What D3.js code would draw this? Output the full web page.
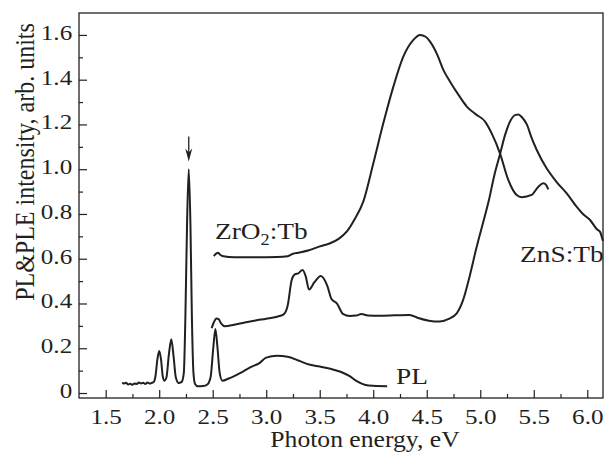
<!DOCTYPE html>
<html>
<head>
<meta charset="utf-8">
<script src="https://cdn.jsdelivr.net/npm/d3@7"></script>
<style>
  body { margin: 0; background: #fff; }
  svg { display: block; }
  text { font-family: "Liberation Serif", "Times New Roman", serif; fill: #231f20; }
</style>
</head>
<body>
<div id="chart"></div>
<script>
// PL spectrum (photon energy eV, intensity)
const plData = [
  [1.655, 0.048], [1.67, 0.042], [1.69, 0.046], [1.71, 0.038], [1.73, 0.041],
  [1.75, 0.037], [1.77, 0.043], [1.79, 0.040], [1.81, 0.047], [1.83, 0.043],
  [1.85, 0.046], [1.87, 0.040], [1.89, 0.047], [1.91, 0.042], [1.93, 0.045],
  [1.95, 0.050], [1.965, 0.075], [1.983, 0.15], [2.0, 0.188], [2.017, 0.15],
  [2.033, 0.075], [2.05, 0.055], [2.068, 0.07], [2.09, 0.17], [2.113, 0.24],
  [2.135, 0.16], [2.155, 0.07], [2.18, 0.045], [2.21, 0.05], [2.23, 0.09],
  [2.245, 0.35], [2.26, 0.75], [2.276, 1.0], [2.292, 0.75], [2.305, 0.35],
  [2.32, 0.09], [2.335, 0.04], [2.36, 0.03], [2.41, 0.031], [2.45, 0.038],
  [2.48, 0.07], [2.505, 0.2], [2.525, 0.286], [2.545, 0.2], [2.565, 0.09],
  [2.59, 0.055], [2.65, 0.065], [2.755, 0.089], [2.85, 0.115], [2.94, 0.135],
  [3.0, 0.158], [3.1, 0.166], [3.2, 0.162], [3.3, 0.145], [3.41, 0.126],
  [3.5, 0.118], [3.6, 0.108], [3.7, 0.094], [3.78, 0.075], [3.85, 0.052],
  [3.92, 0.037], [4.0, 0.032], [4.13, 0.030]
];

// PLE spectrum, ZnS:Tb
const znsData = [
  [2.49, 0.29], [2.51, 0.315], [2.535, 0.333], [2.555, 0.33], [2.58, 0.31],
  [2.615, 0.298], [2.7, 0.305], [2.8, 0.315], [2.9, 0.324], [3.0, 0.332],
  [3.1, 0.341], [3.16, 0.35], [3.2, 0.39], [3.238, 0.505], [3.27, 0.531],
  [3.3, 0.535], [3.34, 0.55], [3.37, 0.52], [3.40, 0.462], [3.45, 0.495],
  [3.51, 0.523], [3.57, 0.48], [3.61, 0.42], [3.66, 0.4], [3.72, 0.352],
  [3.78, 0.344], [3.84, 0.346], [3.89, 0.353], [3.95, 0.346], [4.06, 0.345],
  [4.2, 0.347], [4.34, 0.349], [4.42, 0.335], [4.52, 0.323], [4.62, 0.319],
  [4.7, 0.33], [4.78, 0.356], [4.84, 0.416], [4.9, 0.52], [4.96, 0.64],
  [5.02, 0.75], [5.08, 0.86], [5.13, 0.97], [5.185, 1.068], [5.23, 1.15],
  [5.28, 1.215], [5.33, 1.243], [5.356, 1.245], [5.39, 1.232], [5.435, 1.2],
  [5.48, 1.14], [5.528, 1.086], [5.62, 1.004], [5.71, 0.945], [5.808, 0.892],
  [5.9, 0.833], [5.96, 0.8], [6.026, 0.773], [6.09, 0.732], [6.12, 0.72],
  [6.14, 0.69], [6.147, 0.68]
];

// PLE spectrum, ZrO2:Tb
const zroData = [
  [2.51, 0.612], [2.535, 0.624], [2.55, 0.627], [2.57, 0.618], [2.6, 0.611],
  [2.7, 0.607], [2.9, 0.607], [3.1, 0.608], [3.2, 0.611], [3.25, 0.622],
  [3.3, 0.627], [3.4, 0.638], [3.5, 0.655], [3.597, 0.669], [3.68, 0.69],
  [3.752, 0.721], [3.83, 0.78], [3.907, 0.855], [4.001, 1.027], [4.094, 1.205],
  [4.188, 1.369], [4.281, 1.503], [4.375, 1.578], [4.437, 1.6], [4.49, 1.592],
  [4.531, 1.57], [4.6, 1.51], [4.655, 1.444], [4.718, 1.391], [4.8, 1.33],
  [4.874, 1.28], [4.96, 1.245], [5.045, 1.213], [5.107, 1.16], [5.185, 1.07],
  [5.262, 0.952], [5.34, 0.885], [5.388, 0.875], [5.48, 0.885], [5.543, 0.922],
  [5.59, 0.937], [5.615, 0.93], [5.636, 0.91]
];

const xMajor = [1.5, 2.0, 2.5, 3.0, 3.5, 4.0, 4.5, 5.0, 5.5, 6.0];
const xMinor = [1.75, 2.25, 2.75, 3.25, 3.75, 4.25, 4.75, 5.25, 5.75];
const yMajor = [0, 0.2, 0.4, 0.6, 0.8, 1.0, 1.2, 1.4, 1.6];
const yMinor = [0.1, 0.3, 0.5, 0.7, 0.9, 1.1, 1.3, 1.5];

// curve labels, anchored at their left baseline
const curveLabels = [
  { head: "ZrO", sub: "2", tail: ":Tb", x: 2.521, y: 0.687 },
  { head: "ZnS:Tb", sub: "", tail: "", x: 5.372, y: 0.587 },
  { head: "PL", sub: "", tail: "", x: 4.213, y: 0.039 }
];
// arrow marking the 2.28 eV line: [x, yTop, yTip]
const arrowPos = [2.276, 1.146, 1.034];

const W = 608, H = 458;
const margin = { top: 13, right: 5, bottom: 60, left: 79 };
const width = W - margin.left - margin.right;
const height = H - margin.top - margin.bottom;
const stretch = 1.14; // the original type is a bit wide

const svg = d3.select("#chart")
  .append("svg")
  .attr("width", W)
  .attr("height", H);

const g = svg.append("g")
  .attr("transform", `translate(${margin.left},${margin.top})`);

const x = d3.scaleLinear().domain([1.2505, 6.147]).range([0, width]);
const y = d3.scaleLinear().domain([-0.0223, 1.698]).range([height, 0]);

// axes, ticks pointing in
const xAxis = g.append("g")
  .attr("transform", `translate(0,${height})`)
  .call(d3.axisBottom(x).tickValues(xMajor).tickSize(-8).tickSizeOuter(0)
    .tickPadding(10).tickFormat(d => d.toFixed(1)));
g.append("g")
  .attr("transform", `translate(0,${height})`)
  .call(d3.axisBottom(x).tickValues(xMinor).tickSize(-4).tickSizeOuter(0).tickFormat(""));

const yAxis = g.append("g")
  .call(d3.axisLeft(y).tickValues(yMajor).tickSize(-8).tickSizeOuter(0)
    .tickPadding(6).tickFormat(d => d === 0 ? "0" : d.toFixed(1)));
g.append("g")
  .call(d3.axisLeft(y).tickValues(yMinor).tickSize(-4).tickSizeOuter(0).tickFormat(""));

g.selectAll(".domain").remove();
g.selectAll(".tick line").attr("stroke", "#231f20").attr("stroke-width", 1.2);

xAxis.selectAll("text")
  .style("font-size", "22px")
  .attr("transform", `scale(${stretch},1)`);
yAxis.selectAll("text")
  .style("font-size", "22px")
  .attr("dy", "0.2em")
  .attr("transform", `scale(${stretch},1)`);

// frame
g.append("rect")
  .attr("width", width)
  .attr("height", height)
  .attr("fill", "none")
  .attr("stroke", "#231f20")
  .attr("stroke-width", 1.3);

const line = d3.line()
  .x(d => x(d[0]))
  .y(d => y(d[1]))
  .curve(d3.curveMonotoneX);

[plData, znsData, zroData].forEach(series => {
  g.append("path")
    .datum(series)
    .attr("fill", "none")
    .attr("stroke", "#231f20")
    .attr("stroke-width", 2)
    .attr("stroke-linejoin", "round")
    .attr("d", line);
});

// arrow
const ax = x(arrowPos[0]);
g.append("line")
  .attr("x1", ax).attr("x2", ax)
  .attr("y1", y(arrowPos[1])).attr("y2", y(arrowPos[2]) - 8)
  .attr("stroke", "#231f20")
  .attr("stroke-width", 1.3);
g.append("path")
  .attr("d", `M${ax},${y(arrowPos[2])} L${ax - 3.5},${y(arrowPos[2]) - 13} L${ax},${y(arrowPos[2]) - 9} L${ax + 3.5},${y(arrowPos[2]) - 13} Z`)
  .attr("fill", "#231f20");

// curve labels
curveLabels.forEach(d => {
  const t = g.append("text")
    .attr("transform", `translate(${x(d.x)},${y(d.y)}) scale(${stretch},1)`)
    .style("font-size", "24px");
  t.append("tspan").text(d.head);
  if (d.sub) {
    t.append("tspan").attr("dy", 6).style("font-size", "16px").text(d.sub);
    t.append("tspan").attr("dy", -6).text(d.tail);
  }
});

// axis titles
svg.append("text")
  .attr("transform", `translate(365,446.5) scale(${stretch},1)`)
  .attr("text-anchor", "middle")
  .style("font-size", "22.5px")
  .text("Photon energy, eV");

svg.append("text")
  .attr("transform", `translate(33.5,162) scale(${stretch},1) rotate(-90)`)
  .attr("text-anchor", "middle")
  .style("font-size", "24px")
  .text("PL&PLE intensity, arb. units");
</script>
</body>
</html>
